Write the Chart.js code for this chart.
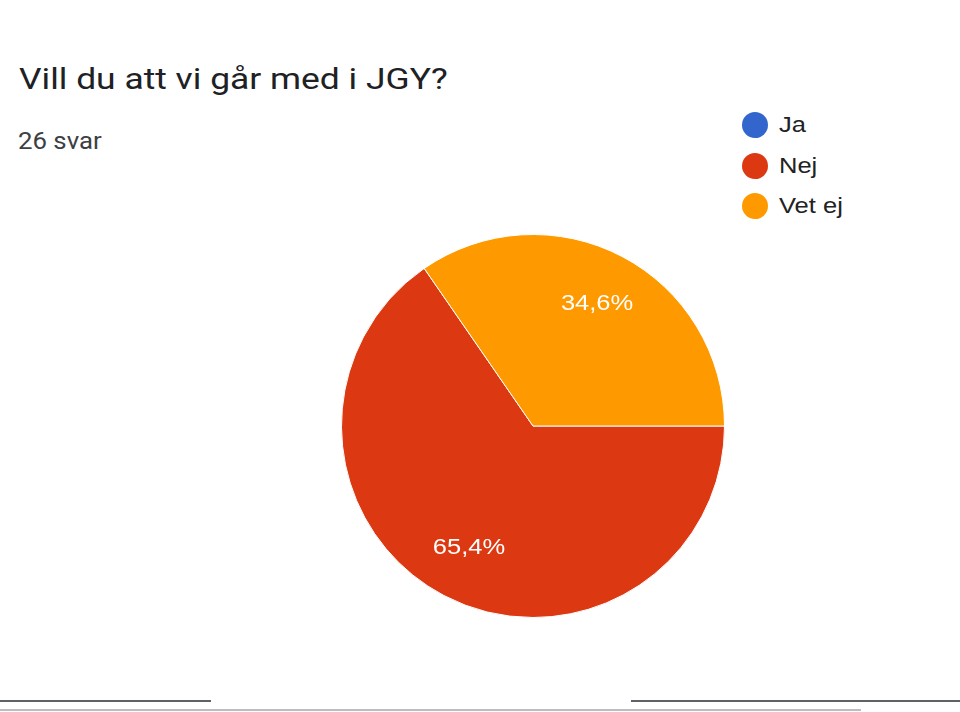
<!DOCTYPE html>
<html lang="sv">
<head>
    <meta charset="UTF-8">
    <title>Vill du att vi går med i JGY?</title>
    <script src="https://cdn.jsdelivr.net/npm/chart.js"></script>
    <style>
        body { margin: 0; width: 960px; height: 712px; overflow: hidden; background: #fff; position: relative; font-family: Roboto, sans-serif; }
        .title { position: absolute; left: 19px; top: 62px; font-size: 29.5px; color: #202124; white-space: nowrap; transform: scaleX(1.2); transform-origin: left center; }
        .count { position: absolute; left: 18px; top: 128px; font-size: 23px; color: #3c4043; white-space: nowrap; transform: scaleX(1.12); transform-origin: left center; }
        .chart-box { position: absolute; left: 333px; top: 226px; width: 400px; height: 400px; }
        .legend { position: absolute; left: 742px; top: 105px; margin: 0; padding: 0; list-style: none; font-family: "Liberation Sans", Arial, sans-serif; font-size: 22px; color: #222; }
        .legend li { display: flex; align-items: center; height: 40.5px; }
        .legend span.dot { width: 26px; height: 26px; border-radius: 50%; margin-right: 11px; flex-shrink: 0; }
        .legend span.txt { display: inline-block; transform: scaleX(1.16); transform-origin: left center; }
        .rule { position: absolute; height: 2px; }
    </style>
</head>
<body>
    <div class="title">Vill du att vi går med i JGY?</div>
    <div class="count">26 svar</div>
    <ul class="legend" id="legend"></ul>
    <div class="chart-box"><canvas id="pie"></canvas></div>

    <div class="rule" style="left:0;width:211px;top:700px;background:#5f6368"></div>
    <div class="rule" style="left:631px;width:329px;top:700px;background:#5f6368"></div>
    <div class="rule" style="left:0;width:861px;top:709px;background:#bdbdbd"></div>

    <script>
        // svar per alternativ (26 totalt)
        const labels = ['Ja', 'Nej', 'Vet ej'];
        const answers = [0, 17, 9];
        const colors = ['#3366cc', '#dc3912', '#ff9900'];

        // legend
        const legend = document.getElementById('legend');
        labels.forEach((label, i) => {
            const li = document.createElement('li');
            li.innerHTML = '<span class="dot" style="background:' + colors[i] + '"></span><span class="txt">' + label + '</span>';
            legend.appendChild(li);
        });

        // procentetiketter inne i skivorna
        const sliceLabels = {
            id: 'sliceLabels',
            afterDatasetsDraw(chart) {
                const ctx = chart.ctx;
                const data = chart.data.datasets[0].data;
                const total = data.reduce((a, b) => a + b, 0);
                chart.getDatasetMeta(0).data.forEach((arc, i) => {
                    if (!data[i]) return;
                    const p = arc.getProps(['x', 'y', 'startAngle', 'endAngle', 'outerRadius'], true);
                    const mid = (p.startAngle + p.endAngle) / 2;
                    const r = p.outerRadius * 0.72;
                    const txt = (data[i] / total * 100).toFixed(1).replace('.', ',') + '%';
                    ctx.save();
                    ctx.translate(p.x + Math.cos(mid) * r, p.y + Math.sin(mid) * r);
                    ctx.scale(1.16, 1);
                    ctx.font = '22px "Liberation Sans", Arial, sans-serif';
                    ctx.fillStyle = '#ffffff';
                    ctx.textAlign = 'center';
                    ctx.textBaseline = 'middle';
                    ctx.fillText(txt, 0, 0);
                    ctx.restore();
                });
            }
        };

        new Chart(document.getElementById('pie'), {
            type: 'pie',
            data: {
                labels: labels,
                datasets: [{
                    data: answers,
                    backgroundColor: colors,
                    borderColor: '#ffffff',
                    borderWidth: 1
                }]
            },
            options: {
                responsive: true,
                maintainAspectRatio: false,
                animation: false,
                rotation: 90,
                layout: { padding: 8 },
                plugins: {
                    legend: { display: false },
                    tooltip: { enabled: false }
                }
            },
            plugins: [sliceLabels]
        });
    </script>
</body>
</html>
